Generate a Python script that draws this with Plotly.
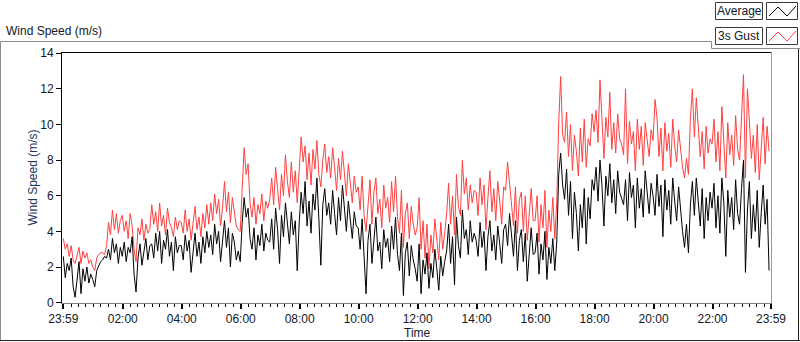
import plotly.graph_objects as go

# ---------------- data (one value every 4 minutes, starting 23:59) ----------------
avg_00_06 = [
    2.6, 1.4, 2.2, 1.8, 2.5, 0.9, 0.3, 1.5, 2.3, 0.5, 1.9, 1.2, 2.0, 1.1, 1.6,
    1.3, 0.9, 1.8, 2.1, 2.3, 2.4, 2.6, 2.5, 3.0, 2.4, 3.6, 2.8, 3.3, 2.2, 3.1,
    2.6, 3.4, 2.3, 3.1, 2.8, 3.7, 1.6, 0.6, 2.5, 3.3, 2.1, 3.0, 3.6, 2.4, 3.2,
    3.3, 2.5, 3.9, 2.9, 4.0, 2.2, 3.5, 3.0, 4.1, 2.6, 3.4, 1.8, 3.7, 2.8, 3.2,
    3.2, 2.4, 3.8, 2.9, 3.5, 1.7, 3.0, 3.9, 2.6, 3.4, 2.2, 3.7, 2.8, 4.0, 3.1,
    3.8, 2.7, 4.4, 3.3, 4.0, 2.3, 3.6, 4.6, 3.1, 4.2, 2.0, 3.9, 3.4, 2.4, 2.9,
]
avg_06_12 = [
    2.3, 4.5, 5.9, 4.8, 5.3, 3.6, 3.0, 4.2, 2.4, 3.8, 3.2, 4.4, 2.9, 3.9, 3.5,
    3.4, 4.7, 3.0, 5.3, 4.1, 2.2, 4.9, 3.7, 5.6, 4.3, 3.3, 5.1, 3.8, 4.6, 1.8,
    4.5, 6.2, 5.0, 6.8, 4.3, 5.7, 3.9, 6.1, 5.2, 7.0, 4.7, 2.1, 5.5, 6.4, 4.9,
    5.6, 4.4, 6.3, 5.0, 3.8, 5.9, 4.6, 6.6, 5.3, 4.0, 5.7, 4.8, 3.6, 5.1, 4.3,
    4.2, 3.0, 4.7, 2.6, 0.5, 3.5, 4.4, 2.2, 3.8, 4.8, 2.9, 3.4, 1.9, 4.1, 3.1,
    3.6, 2.3, 4.3, 3.0, 4.8, 2.7, 1.8, 3.9, 0.4, 2.8, 3.4, 1.5, 3.2, 2.4, 1.9,
]
avg_12_18 = [
    1.2, 3.3, 0.5, 2.4, 1.6, 2.8, 0.8, 2.2, 1.4, 3.0, 1.9, 0.7, 2.6, 1.5, 2.3,
    2.9, 4.4, 2.2, 3.7, 1.0, 4.8, 3.2, 2.5, 5.2, 3.6, 4.1, 2.7, 4.6, 3.4, 3.9,
    3.5, 2.6, 4.5, 3.1, 4.0, 1.8, 3.7, 4.6, 2.9, 3.8, 2.4, 4.3, 3.3, 2.2, 4.1,
    4.4, 3.2, 5.0, 3.8, 2.6, 4.6, 1.8, 3.5, 4.1, 2.3, 3.9, 1.2, 3.0, 4.2, 2.7,
    2.8, 3.9, 1.6, 3.3, 2.4, 4.0, 1.3, 3.1, 2.2, 3.6, 1.8, 3.4, 7.2, 8.4, 6.6,
    5.8, 7.5, 4.9, 6.8, 3.6, 6.2, 5.0, 2.9, 5.5, 4.2, 6.4, 3.3, 5.9, 4.7, 6.9,
]
avg_18_24 = [
    6.3, 7.6, 5.7, 8.0, 6.6, 4.3, 7.1, 6.0, 7.8, 5.6, 6.9, 5.0, 7.4, 6.2, 5.9,
    5.5, 6.9, 4.6, 7.3, 5.9, 6.6, 4.2, 7.0, 5.3, 6.4, 4.8, 7.4, 6.1, 5.0, 6.7,
    6.0, 4.9, 7.2, 5.4, 6.6, 3.7, 6.9, 5.2, 6.3, 4.4, 7.0, 5.7, 4.6, 6.5, 5.1,
    4.0, 3.1, 4.4, 2.8, 5.5, 6.8, 4.9, 7.0, 5.8, 4.3, 6.4, 3.6, 5.9, 4.6, 6.2,
    5.3, 6.7, 4.2, 6.0, 3.9, 7.0, 5.6, 2.6, 6.3, 4.8, 5.9, 4.1, 6.9, 5.0, 4.4,
    6.4, 8.0, 1.7, 5.2, 6.8, 3.6, 5.5, 4.0, 6.3, 3.1, 5.0, 6.6, 4.4, 5.8, 1.8,
]

gust_00_06 = [
    3.6, 3.0, 3.3, 2.6, 3.2, 2.4, 2.2, 2.7, 3.1, 2.2, 2.9, 2.5, 2.8, 2.2, 2.4,
    2.0, 1.8, 2.5, 2.7, 2.8, 2.8, 2.7, 3.2, 4.5, 3.8, 5.2, 4.1, 5.0, 3.9, 4.6,
    4.9, 4.0, 4.6, 3.6, 5.0, 4.3, 3.0, 2.3, 4.2, 3.8, 4.7, 3.5, 4.4, 3.9, 4.1,
    5.5, 4.4, 5.1, 4.0, 5.6, 4.3, 4.9, 3.8, 5.3, 4.5, 4.2, 3.7, 4.8, 4.1, 4.6,
    4.5, 3.9, 5.2, 4.0, 4.7, 3.5, 4.3, 5.4, 4.1, 4.8, 3.7, 5.0, 4.2, 5.5, 4.4,
    5.6, 4.6, 6.1, 5.0, 5.8, 4.3, 5.3, 6.8, 5.1, 6.2, 4.5, 5.9, 5.2, 4.3, 4.1,
]
gust_06_12 = [
    4.0, 6.4, 8.7, 7.2, 7.8, 5.6, 4.8, 5.9, 4.4, 5.5, 5.0, 6.1, 4.6, 5.7, 5.3,
    5.8, 7.0, 5.5, 7.6, 6.4, 5.2, 7.2, 6.0, 8.3, 6.8, 5.9, 7.9, 6.2, 7.4, 5.6,
    7.4, 9.3, 7.9, 8.8, 6.9, 8.4, 6.6, 8.6, 7.5, 9.1, 7.2, 6.5, 8.0, 8.9, 7.3,
    8.2, 7.0, 8.7, 7.6, 6.3, 8.1, 6.9, 8.5, 7.4, 6.0, 7.8, 6.8, 5.6, 7.1, 6.2,
    6.5, 5.2, 7.1, 4.9, 4.0, 5.6, 6.9, 4.4, 6.2, 7.0, 5.0, 5.8, 4.2, 6.6, 5.3,
    5.9, 4.5, 6.8, 5.1, 7.1, 4.8, 3.9, 6.3, 3.1, 5.0, 5.6, 3.6, 5.4, 4.4, 3.8,
]
gust_12_18 = [
    4.2, 5.9, 3.0, 4.6, 2.5, 4.4, 1.9, 3.8, 2.8, 4.7, 3.3, 2.4, 4.5, 3.0, 3.9,
    5.0, 6.7, 4.4, 6.0, 3.8, 7.2, 5.4, 4.9, 8.0, 6.1, 7.0, 5.2, 6.6, 5.6, 6.3,
    6.2, 4.9, 7.0, 5.5, 6.6, 4.1, 5.9, 7.4, 5.1, 6.4, 4.6, 6.8, 5.7, 4.4, 6.5,
    6.3, 7.9, 6.7, 5.6, 4.3, 6.5, 3.9, 5.8, 6.2, 4.0, 6.0, 3.5, 5.1, 6.4, 4.6,
    4.6, 6.0, 3.4, 5.5, 4.2, 6.3, 3.1, 5.2, 4.0, 5.9, 3.6, 5.6, 10.1, 12.7, 9.4,
    9.0, 10.7, 8.2, 10.0, 7.4, 9.4, 8.5, 7.1, 9.8, 7.9, 10.3, 7.6, 9.2, 8.8, 10.6,
]
gust_18_24 = [
    9.6, 10.8, 9.0, 12.5, 9.8, 8.1, 10.4, 9.3, 11.8, 8.6, 10.1, 8.4, 10.6, 9.2, 8.9,
    8.3, 12.0, 7.8, 10.2, 8.9, 9.6, 7.4, 10.3, 8.6, 9.9, 7.7, 10.1, 9.0, 8.2, 9.7,
    9.1, 11.4, 10.4, 8.2, 9.8, 7.4, 10.1, 8.5, 9.5, 7.6, 10.3, 8.8, 7.9, 9.7, 8.4,
    7.6, 7.0, 8.1, 7.2, 10.4, 12.0, 9.3, 11.5, 10.0, 8.2, 9.6, 7.5, 9.9, 8.4, 9.2,
    8.9, 10.3, 7.9, 9.6, 7.4, 11.0, 9.2, 7.0, 10.1, 8.3, 9.4, 7.7, 10.5, 8.6, 8.0,
    10.5, 12.8, 7.0, 12.0, 10.2, 8.1, 9.4, 7.3, 10.0, 6.9, 8.6, 10.4, 7.8, 9.9, 8.5,
]

sample_step_min = 4
tick_labels = ["23:59", "02:00", "04:00", "06:00", "08:00", "10:00", "12:00",
               "14:00", "16:00", "18:00", "20:00", "22:00", "23:59"]
y_ticks = [0, 2, 4, 6, 8, 10, 12, 14]

avg = avg_00_06 + avg_06_12 + avg_12_18 + avg_18_24
gust = gust_00_06 + gust_06_12 + gust_12_18 + gust_18_24
minutes = [i * sample_step_min for i in range(len(avg))]


def label_to_min(lbl, idx):
    if idx == 0:
        return 0
    if idx == len(tick_labels) - 1:
        return 1440
    h, m = lbl.split(":")
    return int(h) * 60 + int(m) + 1


tick_vals = [label_to_min(l, i) for i, l in enumerate(tick_labels)]

# ---------------- layout geometry (pixels) ----------------
L, R, T, B = 62, 772, 52, 303
W, H = R - L, B - T


def fx(x):
    return (x - L) / W


def fy(y):
    return (B - y) / H


FONT = "Liberation Sans, Arial, sans-serif"
TXT = "#111827"

fig = go.Figure()
fig.add_trace(go.Scatter(x=minutes, y=gust, mode="lines",
                         line=dict(color="#ff4040", width=1), name="3s Gust"))
fig.add_trace(go.Scatter(x=minutes, y=avg, mode="lines",
                         line=dict(color="#000000", width=1), name="Average"))

fig.update_layout(
    width=800, height=342,
    margin=dict(l=L, r=800 - R, t=T, b=342 - B),
    paper_bgcolor="white", plot_bgcolor="white",
    showlegend=False,
    font=dict(family=FONT, size=12, color=TXT),
    xaxis=dict(
        range=[-2.65, 1442.0], showgrid=False, zeroline=False,
        tickmode="array", tickvals=tick_vals, ticktext=tick_labels,
        ticks="outside", ticklen=5, tickwidth=2, tickcolor="#000000",
        showline=True, linecolor="#808080", linewidth=1,
        tickfont=dict(size=12, color=TXT),
        minor=dict(tickmode="linear", tick0=1, dtick=15, ticks="outside",
                   ticklen=3, tickwidth=1, tickcolor="#000000", showgrid=False),
    ),
    yaxis=dict(
        range=[-0.02, 14.07], showgrid=False, zeroline=False,
        tickmode="array", tickvals=y_ticks,
        ticks="outside", ticklen=5, tickwidth=1, tickcolor="#000000",
        showline=True, linecolor="#000000", linewidth=1,
        tickfont=dict(size=12, color=TXT),
    ),
)

shapes = []


def pline(x0, y0, x1, y1, color, width=1):
    shapes.append(dict(type="line", xref="paper", yref="paper",
                       x0=fx(x0), y0=fy(y0), x1=fx(x1), y1=fy(y1),
                       line=dict(color=color, width=width), layer="above"))


def prect(x0, y0, x1, y1, color, fill="white"):
    shapes.append(dict(type="rect", xref="paper", yref="paper",
                       x0=fx(x0), y0=fy(y0), x1=fx(x1), y1=fy(y1),
                       line=dict(color=color, width=1), fillcolor=fill, layer="above"))


# plot frame (top dark, right light)
pline(L, T + 0.5, R, T + 0.5, "#000000")
pline(R - 0.5, T, R - 0.5, B, "#9a9a9a")
# outer frame
pline(0.5, 41.5, 711.5, 41.5, "#8c8c8c")
pline(0.5, 41.5, 0.5, 341, "#8c8c8c")
pline(0, 340.5, 800, 340.5, "#202020")
pline(798.5, 48.5, 798.5, 341, "#202020")
# legend panel edge
pline(711.5, 41.5, 711.5, 48.5, "#8c8c8c")
pline(711.5, 48.5, 800, 48.5, "#8c8c8c")
# legend boxes
prect(715.5, 2.5, 762.5, 19.5, "#3a3a3a")
prect(715.5, 27.5, 762.5, 44.5, "#3a3a3a")
prect(766.5, 2.5, 797.5, 19.5, "#3a3a3a")
prect(766.5, 27.5, 797.5, 44.5, "#3a3a3a")


def zig(y_off, color):
    pts = [(769, 16 + y_off), (778, 7 + y_off), (787, 16 + y_off), (796, 6 + y_off)]
    path = "M " + " L ".join(f"{fx(px)},{fy(py)}" for px, py in pts)
    shapes.append(dict(type="path", xref="paper", yref="paper", path=path,
                       line=dict(color=color, width=1), layer="above"))


zig(0, "#000000")
zig(25, "#ff4040")

fig.update_layout(shapes=shapes)

ann = [
    dict(text="Wind Speed (m/s)", x=fx(4), y=fy(31), xanchor="left", yanchor="middle"),
    dict(text="Wind Speed (m/s)", x=fx(32), y=fy(177.5), xanchor="center",
         yanchor="middle", textangle=-90, font=dict(color="#24365f", size=12, family=FONT)),
    dict(text="Time", x=fx(417), y=fy(333), xanchor="center", yanchor="middle"),
    dict(text="Average", x=fx(739), y=fy(11), xanchor="center", yanchor="middle"),
    dict(text="3s Gust", x=fx(739), y=fy(36), xanchor="center", yanchor="middle"),
]
for a in ann:
    a.update(xref="paper", yref="paper", showarrow=False)
    a.setdefault("font", dict(color=TXT, size=12, family=FONT))
fig.update_layout(annotations=ann)

fig.write_html(
    "out.html",
    config={"displayModeBar": False},
    post_script="document.body.style.margin='0';document.body.style.overflow='hidden';",
)
